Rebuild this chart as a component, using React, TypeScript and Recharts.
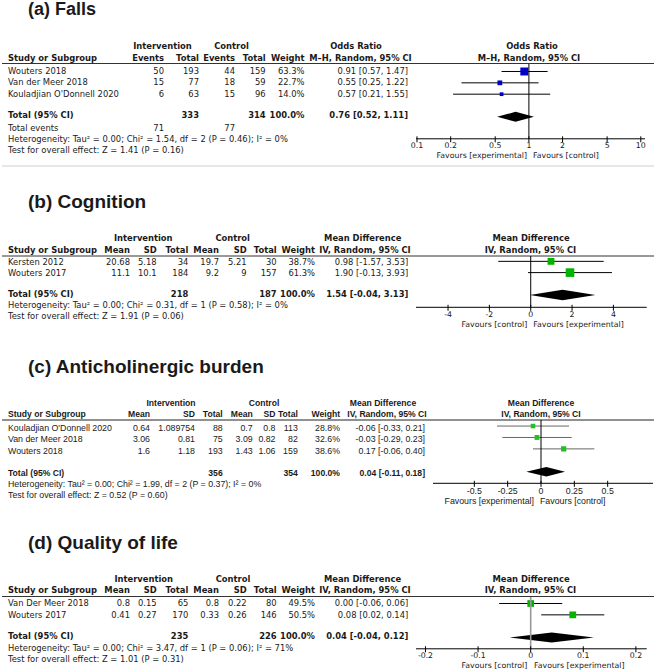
import React from 'react';
import { ComposedChart, Bar, XAxis, YAxis, ReferenceLine } from 'recharts';

// ---------- (a) Falls ----------
const fallsStudies = ['Wouters 2018', 'Van der Meer 2018', "Kouladjian O'Donnell 2020"];
const fallsIntEvents = [50, 15, 6];
const fallsIntTotal = [193, 77, 63];
const fallsCtlEvents = [44, 18, 15];
const fallsCtlTotal = [159, 59, 96];
const fallsWeight = [63.3, 22.7, 14.0];
const fallsOR = [0.91, 0.55, 0.57];
const fallsLow = [0.57, 0.25, 0.21];
const fallsHigh = [1.47, 1.22, 1.55];
const fallsPooled = [0.76, 0.52, 1.11];
const fallsTotals = [333, 314];
const fallsTotalEvents = [71, 77];
const fallsHet = 'Heterogeneity: Tau² = 0.00; Chi² = 1.54, df = 2 (P = 0.46); I² = 0%';
const fallsTest = 'Test for overall effect: Z = 1.41 (P = 0.16)';
const fallsTicks = [0.1, 0.2, 0.5, 1, 2, 5, 10];

// ---------- (b) Cognition ----------
const cogStudies = ['Kersten 2012', 'Wouters 2017'];
const cogIntMean = [20.68, 11.1];
const cogIntSD = [5.18, 10.1];
const cogIntTotal = [34, 184];
const cogCtlMean = [19.7, 9.2];
const cogCtlSD = [5.21, 9];
const cogCtlTotal = [30, 157];
const cogWeight = [38.7, 61.3];
const cogMD = [0.98, 1.9];
const cogLow = [-1.57, -0.13];
const cogHigh = [3.53, 3.93];
const cogPooled = [1.54, -0.04, 3.13];
const cogTotals = [218, 187];
const cogHet = 'Heterogeneity: Tau² = 0.00; Chi² = 0.31, df = 1 (P = 0.58); I² = 0%';
const cogTest = 'Test for overall effect: Z = 1.91 (P = 0.06)';
const cogTicks = [-4, -2, 0, 2, 4];

// ---------- (c) Anticholinergic burden ----------
const acbStudies = ["Kouladjian O'Donnell 2020", 'Van der Meer 2018', 'Wouters 2018'];
const acbIntMean = [0.64, 3.06, 1.6];
const acbIntSD = [1.089754, 0.81, 1.18];
const acbIntTotal = [88, 75, 193];
const acbCtlMean = [0.7, 3.09, 1.43];
const acbCtlSD = [0.8, 0.82, 1.06];
const acbCtlTotal = [113, 82, 159];
const acbWeight = [28.8, 32.6, 38.6];
const acbMD = [-0.06, -0.03, 0.17];
const acbLow = [-0.33, -0.29, -0.06];
const acbHigh = [0.21, 0.23, 0.4];
const acbPooled = [0.04, -0.11, 0.18];
const acbTotals = [356, 354];
const acbHet = 'Heterogeneity: Tau² = 0.00; Chi² = 1.99, df = 2 (P = 0.37); I² = 0%';
const acbTest = 'Test for overall effect: Z = 0.52 (P = 0.60)';
const acbTicks = [-0.5, -0.25, 0, 0.25, 0.5];

// ---------- (d) Quality of life ----------
const qolStudies = ['Van Der Meer 2018', 'Wouters 2017'];
const qolIntMean = [0.8, 0.41];
const qolIntSD = [0.15, 0.27];
const qolIntTotal = [65, 170];
const qolCtlMean = [0.8, 0.33];
const qolCtlSD = [0.22, 0.26];
const qolCtlTotal = [80, 146];
const qolWeight = [49.5, 50.5];
const qolMD = [0.0, 0.08];
const qolLow = [-0.06, 0.02];
const qolHigh = [0.06, 0.14];
const qolPooled = [0.04, -0.04, 0.12];
const qolTotals = [235, 226];
const qolHet = 'Heterogeneity: Tau² = 0.00; Chi² = 3.47, df = 1 (P = 0.06); I² = 71%';
const qolTest = 'Test for overall effect: Z = 1.01 (P = 0.31)';
const qolTicks = [-0.2, -0.1, 0, 0.1, 0.2];

// ---------- helpers ----------
const D = '"DejaVu Sans", Verdana, sans-serif';
const A = '"Liberation Sans", Arial, sans-serif';
const INK = '#1a1a1a';

const ciText = (e: number, l: number, h: number) => `${e.toFixed(2)} [${l.toFixed(2)}, ${h.toFixed(2)}]`;

type Row = { key: string; kind: 'study' | 'gap' | 'total'; est?: number; low?: number; high?: number; weight?: number };

const buildRows = (names: string[], est: number[], low: number[], high: number[], weight: number[], pooled: number[]): Row[] => [
  ...names.map((n, i) => ({ key: n, kind: 'study' as const, est: est[i], low: low[i], high: high[i], weight: weight[i] })),
  { key: '__gap', kind: 'gap' as const },
  { key: 'Total (95% CI)', kind: 'total' as const, est: pooled[0], low: pooled[1], high: pooled[2] },
];

const T = ({ x, y, a = 'start', b = false, f = D, s = 8.4, c = INK, children }: any) => (
  <text x={x} y={y} textAnchor={a} fontWeight={b ? 'bold' : 'normal'} fontFamily={f} fontSize={s} fill={c}>
    {children}
  </text>
);

type ForestProps = {
  rows: Row[];
  left: number;
  right: number;
  top: number;
  axisY: number;
  domain: [number, number];
  ticks: number[];
  log?: boolean;
  nullValue: number;
  padTop: number;
  padBottom: number;
  diamond: number;
  squareK: number;
  squareColor: string;
  ciColor: string;
  nullColor: string;
  nullWidth: number;
  tickFont: string;
  tickFs: number;
  tickOffset: number;
};

const SIDE = 14;

function Forest(p: ForestProps) {
  const width = p.right - p.left + 2 * SIDE;
  const plotH = p.axisY - p.top;
  const axisH = 16;
  const f = p.log ? (v: number) => Math.log10(v) : (v: number) => v;

  const shape = (props: any) => {
    const { x, y, width: w, height: h, payload } = props;
    if (!payload || payload.kind === 'gap' || w == null) return <g />;
    const frac = (f(payload.est) - f(payload.low)) / (f(payload.high) - f(payload.low));
    const cx = x + w * frac;
    const cy = y + h / 2;
    if (payload.kind === 'total') {
      return <polygon points={`${x},${cy} ${cx},${y} ${x + w},${cy} ${cx},${y + h}`} fill="#000" />;
    }
    const s = p.squareK * Math.sqrt(payload.weight);
    return (
      <g>
        <line x1={x} x2={x + w} y1={cy} y2={cy} stroke={p.ciColor} strokeWidth={1} />
        <rect x={cx - s / 2} y={cy - s / 2} width={s} height={s} fill={p.squareColor} />
      </g>
    );
  };

  const renderTick = (props: any) => {
    const { x, y, payload } = props;
    return (
      <g>
        <line x1={x} x2={x} y1={y - 2.5} y2={y + 3.5} stroke="#000" strokeWidth={1} />
        <text x={x} y={y + p.tickOffset} textAnchor="middle" fontFamily={p.tickFont} fontSize={p.tickFs} fill={INK}>
          {String(payload.value)}
        </text>
      </g>
    );
  };

  return (
    <div style={{ position: 'absolute', left: p.left - SIDE, top: p.top }}>
      <ComposedChart
        layout="vertical"
        width={width}
        height={plotH + axisH}
        data={p.rows}
        margin={{ top: 0, right: SIDE, bottom: 0, left: SIDE }}
      >
        <XAxis
          type="number"
          scale={p.log ? 'log' : 'linear'}
          domain={p.domain}
          ticks={p.ticks}
          allowDataOverflow
          interval={0}
          height={axisH}
          tickSize={0}
          tickMargin={0}
          tickLine={false}
          axisLine={{ stroke: '#000', strokeWidth: 1 }}
          tick={renderTick}
        />
        <YAxis type="category" dataKey="key" hide padding={{ top: p.padTop, bottom: p.padBottom }} />
        <ReferenceLine x={p.nullValue} stroke={p.nullColor} strokeWidth={p.nullWidth} />
        <Bar
          dataKey={(d: Row) => (d.kind === 'gap' ? null : [d.low, d.high])}
          barSize={p.diamond}
          shape={shape}
          isAnimationActive={false}
        />
      </ComposedChart>
    </div>
  );
}

function StudyRows({ names, values, weights, est, low, high, ys, nameX, ends, weightX, ciX, f, s }: any) {
  return (
    <g>
      {names.map((n: string, i: number) => (
        <g key={n}>
          <T x={nameX} y={ys[i]} f={f} s={s}>{n}</T>
          {values.map((arr: number[], j: number) => (
            <T key={j} x={ends[j]} y={ys[i]} a="end" f={f} s={s}>{String(arr[i])}</T>
          ))}
          <T x={weightX} y={ys[i]} a="end" f={f} s={s}>{weights[i].toFixed(1)}%</T>
          <T x={ciX} y={ys[i]} a="end" f={f} s={s}>{ciText(est[i], low[i], high[i])}</T>
        </g>
      ))}
    </g>
  );
}

export default function App() {
  const fs = 8.4;
  const afs = 8.8;
  const ahs = 8.6;
  const mdEnds = [130, 156.7, 188.3, 219, 246.7, 276.7];
  const cEnds = [150, 195, 222.7, 252.7, 275.5, 297.8];
  const aEnds = [164, 199, 235, 265.7];
  return (
    <div style={{ position: 'absolute', left: 0, top: 0, width: 656, height: 672, background: '#fff', overflow: 'hidden' }}>
      <svg width={656} height={672} style={{ position: 'absolute', left: 0, top: 0 }}>
        {/* ===== (a) ===== */}
        <T x={28} y={15} f={A} s={18} b>(a) Falls</T>
        <T x={162.5} y={49} a="middle" b>Intervention</T>
        <T x={231.5} y={49} a="middle" b>Control</T>
        <T x={356} y={49} a="middle" b>Odds Ratio</T>
        <T x={532} y={49} a="middle" b>Odds Ratio</T>
        <T x={8} y={61} b>Study or Subgroup</T>
        <T x={aEnds[0]} y={61} a="end" b>Events</T>
        <T x={aEnds[1]} y={61} a="end" b>Total</T>
        <T x={aEnds[2]} y={61} a="end" b>Events</T>
        <T x={aEnds[3]} y={61} a="end" b>Total</T>
        <T x={304.5} y={61} a="end" b>Weight</T>
        <T x={360.5} y={61} a="middle" b>M–H, Random, 95% CI</T>
        <T x={529} y={61} a="middle" b>M–H, Random, 95% CI</T>
        <line x1={2} x2={654} y1={63.5} y2={63.5} stroke="#333" strokeWidth={1} />
        <StudyRows
          names={fallsStudies}
          values={[fallsIntEvents, fallsIntTotal, fallsCtlEvents, fallsCtlTotal]}
          weights={fallsWeight}
          est={fallsOR}
          low={fallsLow}
          high={fallsHigh}
          ys={[74, 85.3, 96.7]}
          nameX={8}
          ends={aEnds}
          weightX={304.5}
          ciX={408}
          f={D}
          s={fs}
        />
        <T x={8} y={118.3} b>Total (95% CI)</T>
        <T x={aEnds[1]} y={118.3} a="end" b>{fallsTotals[0]}</T>
        <T x={aEnds[3]} y={118.3} a="end" b>{fallsTotals[1]}</T>
        <T x={304.5} y={118.3} a="end" b>100.0%</T>
        <T x={408} y={118.3} a="end" b>{ciText(fallsPooled[0], fallsPooled[1], fallsPooled[2])}</T>
        <T x={8} y={130.5}>Total events</T>
        <T x={aEnds[0]} y={130.5} a="end">{fallsTotalEvents[0]}</T>
        <T x={aEnds[2]} y={130.5} a="end">{fallsTotalEvents[1]}</T>
        <T x={8} y={142}>{fallsHet}</T>
        <T x={8} y={153.3}>{fallsTest}</T>
        <T x={527} y={158.3} a="end" s={7.8}>Favours [experimental]</T>
        <T x={533} y={158.3} s={7.8}>Favours [control]</T>
        <line x1={2} x2={654} y1={166} y2={166} stroke="#cfcfcf" strokeWidth={1} />

        {/* ===== (b) ===== */}
        <T x={28} y={208.3} f={A} s={19} b>(b)  Cognition</T>
        <T x={143.3} y={241} a="middle" b>Intervention</T>
        <T x={232.7} y={241} a="middle" b>Control</T>
        <T x={362.7} y={241} a="middle" b>Mean Difference</T>
        <T x={531} y={241} a="middle" b>Mean Difference</T>
        <T x={8} y={252.7} b>Study or Subgroup</T>
        {['Mean', 'SD', 'Total', 'Mean', 'SD', 'Total'].map((h, j) => (
          <T key={'bh' + j} x={mdEnds[j]} y={252.7} a="end" b>{h}</T>
        ))}
        <T x={315} y={252.7} a="end" b>Weight</T>
        <T x={365} y={252.7} a="middle" b>IV, Random, 95% CI</T>
        <T x={530.5} y={252.7} a="middle" b>IV, Random, 95% CI</T>
        <line x1={2} x2={654} y1={256} y2={256} stroke="#333" strokeWidth={1} />
        <StudyRows
          names={cogStudies}
          values={[cogIntMean, cogIntSD, cogIntTotal, cogCtlMean, cogCtlSD, cogCtlTotal]}
          weights={cogWeight}
          est={cogMD}
          low={cogLow}
          high={cogHigh}
          ys={[265, 276.3]}
          nameX={8}
          ends={mdEnds}
          weightX={315}
          ciX={408.3}
          f={D}
          s={fs}
        />
        <T x={8} y={297.3} b>Total (95% CI)</T>
        <T x={mdEnds[2]} y={297.3} a="end" b>{cogTotals[0]}</T>
        <T x={mdEnds[5]} y={297.3} a="end" b>{cogTotals[1]}</T>
        <T x={315} y={297.3} a="end" b>100.0%</T>
        <T x={408.3} y={297.3} a="end" b>{ciText(cogPooled[0], cogPooled[1], cogPooled[2])}</T>
        <T x={8} y={308.3}>{cogHet}</T>
        <T x={8} y={319.3}>{cogTest}</T>
        <T x={527.3} y={326.7} a="end" s={7.8}>Favours [control]</T>
        <T x={533.3} y={326.7} s={7.8}>Favours [experimental]</T>

        {/* ===== (c) ===== */}
        <T x={28} y={373} f={A} s={19} b>(c)  Anticholinergic burden</T>
        <T x={171} y={405.5} a="middle" b f={A} s={ahs}>Intervention</T>
        <T x={264} y={405.5} a="middle" b f={A} s={ahs}>Control</T>
        <T x={383} y={405.5} a="middle" b f={A} s={ahs}>Mean Difference</T>
        <T x={541} y={405.5} a="middle" b f={A} s={ahs}>Mean Difference</T>
        <T x={8} y={417} b f={A} s={ahs}>Study or Subgroup</T>
        {['Mean', 'SD', 'Total', 'Mean', 'SD', 'Total'].map((h, j) => (
          <T key={'ch' + j} x={cEnds[j]} y={417} a="end" b f={A} s={ahs}>{h}</T>
        ))}
        <T x={340} y={417} a="end" b f={A} s={ahs}>Weight</T>
        <T x={387} y={417} a="middle" b f={A} s={ahs}>IV, Random, 95% CI</T>
        <T x={541} y={417} a="middle" b f={A} s={ahs}>IV, Random, 95% CI</T>
        <line x1={2} x2={654} y1={420} y2={420} stroke="#222" strokeWidth={1} />
        <StudyRows
          names={acbStudies}
          values={[acbIntMean, acbIntSD, acbIntTotal, acbCtlMean, acbCtlSD, acbCtlTotal]}
          weights={acbWeight}
          est={acbMD}
          low={acbLow}
          high={acbHigh}
          ys={[430.7, 442.3, 454]}
          nameX={8}
          ends={cEnds}
          weightX={340}
          ciX={425}
          f={A}
          s={afs}
        />
        <T x={8} y={475.5} b f={A} s={ahs}>Total (95% CI)</T>
        <T x={cEnds[2]} y={475.5} a="end" b f={A} s={ahs}>{acbTotals[0]}</T>
        <T x={cEnds[5]} y={475.5} a="end" b f={A} s={ahs}>{acbTotals[1]}</T>
        <T x={340} y={475.5} a="end" b f={A} s={ahs}>100.0%</T>
        <T x={425} y={475.5} a="end" b f={A} s={ahs}>{ciText(acbPooled[0], acbPooled[1], acbPooled[2])}</T>
        <T x={8} y={487.2} f={A} s={afs}>{acbHet}</T>
        <T x={8} y={498} f={A} s={afs}>{acbTest}</T>
        <T x={534} y={504} a="end" f={A} s={afs}>Favours [experimental]</T>
        <T x={540} y={504} f={A} s={afs}>Favours [control]</T>

        {/* ===== (d) ===== */}
        <T x={28} y={549.3} f={A} s={19} b>(d)  Quality of life</T>
        <T x={143.7} y={581.7} a="middle" b>Intervention</T>
        <T x={233} y={581.7} a="middle" b>Control</T>
        <T x={362.5} y={581.7} a="middle" b>Mean Difference</T>
        <T x={531} y={581.7} a="middle" b>Mean Difference</T>
        <T x={8} y={593.3} b>Study or Subgroup</T>
        {['Mean', 'SD', 'Total', 'Mean', 'SD', 'Total'].map((h, j) => (
          <T key={'dh' + j} x={mdEnds[j]} y={593.3} a="end" b>{h}</T>
        ))}
        <T x={315} y={593.3} a="end" b>Weight</T>
        <T x={365} y={593.3} a="middle" b>IV, Random, 95% CI</T>
        <T x={530.5} y={593.3} a="middle" b>IV, Random, 95% CI</T>
        <line x1={2} x2={654} y1={596.5} y2={596.5} stroke="#333" strokeWidth={1} />
        <StudyRows
          names={qolStudies}
          values={[qolIntMean, qolIntSD, qolIntTotal, qolCtlMean, qolCtlSD, qolCtlTotal]}
          weights={qolWeight}
          est={qolMD}
          low={qolLow}
          high={qolHigh}
          ys={[606.3, 617.8]}
          nameX={8}
          ends={mdEnds}
          weightX={315}
          ciX={408.3}
          f={D}
          s={fs}
        />
        <T x={8} y={639.3} b>Total (95% CI)</T>
        <T x={mdEnds[2]} y={639.3} a="end" b>{qolTotals[0]}</T>
        <T x={mdEnds[5]} y={639.3} a="end" b>{qolTotals[1]}</T>
        <T x={315} y={639.3} a="end" b>100.0%</T>
        <T x={408.3} y={639.3} a="end" b>{ciText(qolPooled[0], qolPooled[1], qolPooled[2])}</T>
        <T x={8} y={650.7}>{qolHet}</T>
        <T x={8} y={661.7}>{qolTest}</T>
        <T x={527.3} y={668.3} a="end" s={7.8}>Favours [control]</T>
        <T x={534} y={668.3} s={7.8}>Favours [experimental]</T>
      </svg>

      <Forest
        rows={buildRows(fallsStudies, fallsOR, fallsLow, fallsHigh, fallsWeight, fallsPooled)}
        left={416}
        right={645}
        top={63.5}
        axisY={138.3}
        domain={[0.098, 10.9]}
        ticks={fallsTicks}
        log
        nullValue={1}
        padTop={1.5}
        padBottom={16.6}
        diamond={10}
        squareK={1.0}
        squareColor="#0000c8"
        ciColor="#000"
        nullColor="#000"
        nullWidth={1}
        tickFont={D}
        tickFs={7.8}
        tickOffset={9}
      />
      <Forest
        rows={buildRows(cogStudies, cogMD, cogLow, cogHigh, cogWeight, cogPooled)}
        left={416}
        right={646.7}
        top={256}
        axisY={307.3}
        domain={[-5.55, 5.61]}
        ticks={cogTicks}
        nullValue={0}
        padTop={0.1}
        padBottom={6.2}
        diamond={10.5}
        squareK={1.1}
        squareColor="#00b400"
        ciColor="#000"
        nullColor="#000"
        nullWidth={1}
        tickFont={D}
        tickFs={7.8}
        tickOffset={10}
      />
      <Forest
        rows={buildRows(acbStudies, acbMD, acbLow, acbHigh, acbWeight, acbPooled)}
        left={433}
        right={653}
        top={420}
        axisY={483.3}
        domain={[-0.81, 0.84]}
        ticks={acbTicks}
        nullValue={0}
        padTop={0.3}
        padBottom={5.9}
        diamond={9.5}
        squareK={0.85}
        squareColor="#22c022"
        ciColor="#666"
        nullColor="#000"
        nullWidth={1}
        tickFont={A}
        tickFs={8.8}
        tickOffset={11}
      />
      <Forest
        rows={buildRows(qolStudies, qolMD, qolLow, qolHigh, qolWeight, qolPooled)}
        left={416}
        right={646.7}
        top={596.5}
        axisY={648.3}
        domain={[-0.218, 0.2205]}
        ticks={qolTicks}
        nullValue={0}
        padTop={0.5}
        padBottom={5.9}
        diamond={10}
        squareK={0.95}
        squareColor="#00b400"
        ciColor="#000"
        nullColor="#999"
        nullWidth={1.6}
        tickFont={D}
        tickFs={7.8}
        tickOffset={9}
      />
    </div>
  );
}
